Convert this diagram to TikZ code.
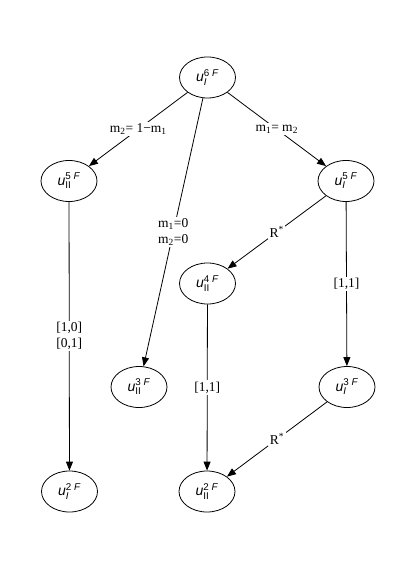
\documentclass[tikz,border=0pt]{standalone}
\usepackage{amsmath}
\usepackage{fontspec}
\setmainfont{Liberation Serif}
\setsansfont{Liberation Sans}
\usetikzlibrary{arrows.meta,shapes.geometric}
\tikzset{
  state/.style={draw, ellipse, line width=0.8pt, minimum width=56pt, minimum height=41pt, inner sep=0pt, font=\sffamily\fontsize{14}{16}\selectfont},
  conn/.style={draw, line width=0.8pt, -{Triangle[length=9pt,width=7pt]}},
  elab/.style={fill=white, inner sep=1.5pt, align=center, font=\rmfamily\fontsize{13.5}{16}\selectfont},
}
\newcommand{\unode}[2]{\textit{u}$^{\text{#1 \textit{F}}}_{\text{#2}}$}
\begin{document}
\begin{tikzpicture}[x=1pt,y=-1pt]
\useasboundingbox (0,0) rectangle (415,569);
\node[state] (a6) at (207.5,77.5) {\unode{6}{\textit{I}}};
\node[state] (b5) at (69,181) {\unode{5}{II}};
\node[state] (a5) at (346,181) {\unode{5}{\textit{I}}};
\node[state] (b4) at (207.5,283.5) {\unode{4}{II}};
\node[state] (b3) at (139,387) {\unode{3}{II}};
\node[state] (a3) at (347,387) {\unode{3}{\textit{I}}};
\node[state] (a2) at (69.5,491.5) {\unode{2}{\textit{I}}};
\node[state] (b2) at (207,491.5) {\unode{2}{II}};

\path[conn] (a6) -- node[elab] {m\textsubscript{2}= 1\textminus m\textsubscript{1}} (b5);
\path[conn] (a6) -- node[elab] {m\textsubscript{1}= m\textsubscript{2}} (a5);
\path[conn] (a6) -- node[elab] {m\textsubscript{1}=0\\m\textsubscript{2}=0} (b3);
\path[conn] (b5) -- node[elab] {{[1,0]}\\{[0,1]}} (a2);
\path[conn] (a5) -- node[elab] {R\textsuperscript{*}} (b4);
\path[conn] (a5) -- node[elab] {{[1,1]}} (a3);
\path[conn] (b4) -- node[elab] {{[1,1]}} (b2);
\path[conn] (a3) -- node[elab] {R\textsuperscript{*}} (b2);
\end{tikzpicture}
\end{document}
